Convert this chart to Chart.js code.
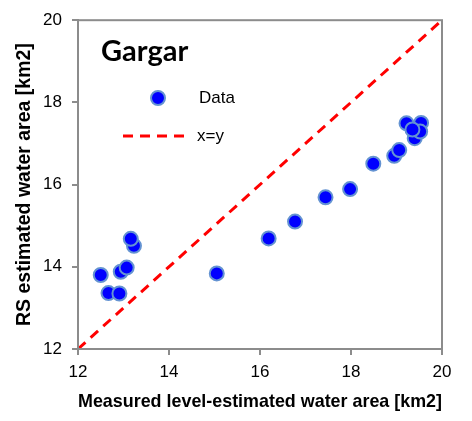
<!DOCTYPE html>
<html lang="en">
<head>
<meta charset="UTF-8">
<title>Gargar - RS vs measured water area</title>
<script src="https://cdn.jsdelivr.net/npm/chart.js"></script>
<style>
  html, body { margin: 0; padding: 0; background: #fff; }
  #wrap { width: 472px; height: 421px; }
</style>
</head>
<body>
<div id="wrap"><canvas id="chart" width="472" height="421"></canvas></div>
<script>
// measured level-estimated area (x) vs RS estimated area (y), km2
const measured = [13.23, 13.16, 12.50, 12.94, 13.07, 12.67, 12.91, 15.05,
                  16.19, 16.77, 17.44, 17.98, 18.49, 18.95, 19.06,
                  19.22, 19.54, 19.40, 19.52, 19.35];
const rsEstimated = [14.51, 14.68, 13.80, 13.88, 13.98, 13.36, 13.35, 13.84,
                     14.69, 15.10, 15.69, 15.89, 16.51, 16.70, 16.84,
                     17.49, 17.50, 17.13, 17.29, 17.34];

// 1:1 reference line
const lineX = [12, 20];
const lineY = [12, 20];

const axisMin = 12, axisMax = 20, tickStep = 2;

const siteName = 'Gargar';
const legendLabels = ['Data', 'x=y'];
const xTitle = 'Measured level-estimated water area [km2]';
const yTitle = 'RS estimated water area [km2]';

const axisGrey = '#8c8c8c';
const tickFont = { family: "'Liberation Sans', Arial, sans-serif", size: 17 };

// frame + inner title + legend
const extras = {
  id: 'extras',
  afterDraw(chart) {
    const { ctx, chartArea: a } = chart;
    ctx.save();
    ctx.strokeStyle = axisGrey;
    ctx.lineWidth = 2;
    ctx.strokeRect(a.left, a.top, a.right - a.left, a.bottom - a.top);

    ctx.fillStyle = '#000';
    ctx.font = "bold 29px Lato, 'Open Sans', sans-serif";
    ctx.textBaseline = 'alphabetic';
    ctx.fillText(siteName, 101, 61);

    const ds0 = chart.data.datasets[0];
    const ds1 = chart.data.datasets[1];
    // Data marker
    ctx.beginPath();
    ctx.arc(158, 98, ds0.pointRadius, 0, Math.PI * 2);
    ctx.fillStyle = ds0.pointBackgroundColor;
    ctx.fill();
    ctx.lineWidth = ds0.pointBorderWidth;
    ctx.strokeStyle = ds0.pointBorderColor;
    ctx.stroke();
    // x=y line sample
    ctx.beginPath();
    ctx.setLineDash(ds1.borderDash);
    ctx.lineWidth = ds1.borderWidth;
    ctx.strokeStyle = ds1.borderColor;
    ctx.moveTo(123, 136);
    ctx.lineTo(188, 136);
    ctx.stroke();
    ctx.setLineDash([]);

    ctx.fillStyle = '#000';
    ctx.font = "17px 'Liberation Sans', Arial, sans-serif";
    ctx.textBaseline = 'middle';
    ctx.fillText(legendLabels[0], 199, 98);
    ctx.fillText(legendLabels[1], 197, 136);
    ctx.restore();
  }
};

new Chart(document.getElementById('chart'), {
  type: 'scatter',
  data: {
    datasets: [
      {
        label: legendLabels[0],
        data: measured.map((x, i) => ({ x: x, y: rsEstimated[i] })),
        pointRadius: 7,
        pointHoverRadius: 7,
        pointBackgroundColor: '#0000ff',
        pointBorderColor: '#6493d2',
        pointBorderWidth: 2,
        order: 1
      },
      {
        label: legendLabels[1],
        data: lineX.map((x, i) => ({ x: x, y: lineY[i] })),
        showLine: true,
        borderColor: '#ff0000',
        borderWidth: 3,
        borderDash: [10, 7],
        pointRadius: 0,
        order: 2
      }
    ]
  },
  options: {
    responsive: false,
    animation: false,
    layout: { padding: { top: 15, right: 30, left: 0, bottom: 0 } },
    plugins: { legend: { display: false }, tooltip: { enabled: false } },
    scales: {
      x: {
        type: 'linear',
        min: axisMin, max: axisMax,
        afterFit: s => { s.height = 72; },
        ticks: { stepSize: tickStep, color: '#000', font: tickFont, padding: 7, maxRotation: 0 },
        grid: { drawOnChartArea: false, tickLength: 6, color: axisGrey, lineWidth: 2 },
        border: { color: axisGrey, width: 2 },
        title: {
          display: true, text: xTitle, color: '#000',
          font: { family: "'Liberation Sans', Arial, sans-serif", size: 18.5, weight: 'bold' },
          padding: { top: 0, bottom: 8 }
        }
      },
      y: {
        type: 'linear',
        min: axisMin, max: axisMax,
        afterFit: s => { s.width = 78; },
        ticks: { stepSize: tickStep, color: '#000', font: tickFont, padding: 10 },
        grid: { drawOnChartArea: false, tickLength: 6, color: axisGrey, lineWidth: 2 },
        border: { color: axisGrey, width: 2 },
        title: {
          display: true, text: yTitle, color: '#000',
          font: { family: "'Liberation Sans', Arial, sans-serif", size: 19.5, weight: 'bold' },
          padding: { top: 13, bottom: 0 }
        }
      }
    }
  },
  plugins: [extras]
});
</script>
</body>
</html>
